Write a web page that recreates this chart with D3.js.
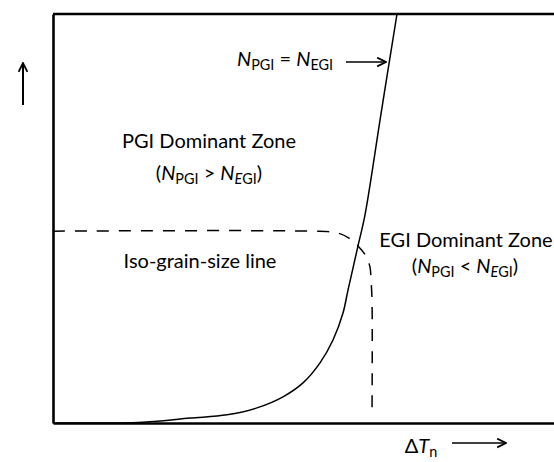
<!DOCTYPE html>
<html>
<head>
<meta charset="utf-8">
<script src="https://cdn.jsdelivr.net/npm/d3@7"></script>
<style>
  body { margin: 0; background: #fff; }
  svg { display: block; }
  text { font-family: Lato, "Open Sans", sans-serif; fill: #000; }
</style>
</head>
<body>
<svg id="chart" width="554" height="462"></svg>
<script>
// schematic data, arbitrary units 0..100 on both axes
const equalX = [0, 18, 27.4, 34.8, 40.8, 46, 50, 53.4, 56, 58, 59, 61, 62.4, 65.6, 68.8];
const equalY = [0, 0.2, 1.2, 2.0, 3.7, 6.4, 9.8, 14.7, 20.3, 26.9, 32.5, 43.3, 50.9, 75.6, 100];

const isoX = [0, 51.4, 56.8, 59.2, 61, 62.6, 63.4, 63.6, 63.8, 63.8];
const isoY = [46.9, 46.9, 46.5, 45.2, 43.3, 40.8, 38.1, 35, 30.1, 1.5];

const width = 554, height = 462;
const svg = d3.select("#chart");

const x = d3.scaleLinear().domain([0, 100]).range([53, 553]);
const y = d3.scaleLinear().domain([0, 100]).range([423, 14]);

// arrow head
svg.append("defs").append("marker")
  .attr("id", "head")
  .attr("viewBox", "0 0 10 10")
  .attr("refX", 9).attr("refY", 5)
  .attr("markerWidth", 11).attr("markerHeight", 11)
  .attr("markerUnits", "userSpaceOnUse")
  .attr("orient", "auto")
  .append("path")
  .attr("d", "M1,1 L9,5 L1,9")
  .attr("fill", "none").attr("stroke", "#000").attr("stroke-width", 1.6);

// frame: bottom + left axes with no ticks, top line
let xAxis = svg.append("g")
  .attr("transform", `translate(0,${y(0)})`)
  .call(d3.axisBottom(x.copy().range([53, 560])).ticks(0).tickSizeOuter(0));
let yAxis = svg.append("g")
  .attr("transform", `translate(${x(0)},0)`)
  .call(d3.axisLeft(y).ticks(0).tickSizeOuter(0));
svg.selectAll(".domain").attr("stroke", "#000").attr("stroke-width", 2.6);
svg.append("line")
  .attr("x1", x(0)).attr("x2", 560)
  .attr("y1", y(100)).attr("y2", y(100))
  .attr("stroke", "#000").attr("stroke-width", 2.6);

// N_PGI = N_EGI curve
let line = d3.line().x(d => x(d[0])).y(d => y(d[1])).curve(d3.curveCatmullRom);
svg.append("path")
  .attr("d", line(d3.zip(equalX, equalY)))
  .attr("fill", "none").attr("stroke", "#000").attr("stroke-width", 1.5);

// iso-grain-size line
svg.append("path")
  .attr("d", line(d3.zip(isoX, isoY)))
  .attr("fill", "none").attr("stroke", "#000").attr("stroke-width", 1.5)
  .attr("stroke-dasharray", "12,10");

// labels; sub: start subscript, keep: stay on current baseline, up: back to baseline
function label(px, py, parts, size, anchor) {
  let t = svg.append("text").attr("x", px).attr("y", py)
    .attr("font-size", size).attr("text-anchor", anchor || "middle");
  parts.forEach(p => {
    let s = t.append("tspan").text(p.t);
    if (p.i) s.attr("font-style", "italic");
    if (p.sub || p.keep) s.attr("font-size", size * 0.72);
    if (p.sub) s.attr("dy", 4);
    if (p.up) s.attr("dy", -4);
  });
  return t;
}

label(209, 148, [{t: "PGI Dominant Zone"}], 20);
label(209, 180, [{t: "("}, {t: "N", i: 1}, {t: "PGI", sub: 1}, {t: " > ", up: 1}, {t: "N", i: 1},
  {t: "E", i: 1, sub: 1}, {t: "GI", keep: 1}, {t: ")", up: 1}], 20);
label(200, 268, [{t: "Iso-grain-size line"}], 20);
label(466, 247, [{t: "EGI Dominant Zone"}], 20);
label(465, 273, [{t: "("}, {t: "N", i: 1}, {t: "PGI", sub: 1}, {t: " < ", up: 1}, {t: "N", i: 1},
  {t: "E", i: 1, sub: 1}, {t: "GI", keep: 1}, {t: ")", up: 1}], 20);
label(285, 66, [{t: "N", i: 1}, {t: "PGI", sub: 1}, {t: " = ", up: 1}, {t: "N", i: 1}, {t: "EGI", sub: 1}], 20);
label(421, 453, [{t: "\u0394"}, {t: "T", i: 1}, {t: "n", sub: 1}], 20);

// arrows
svg.append("line").attr("x1", 346).attr("y1", 62).attr("x2", 386).attr("y2", 62)
  .attr("stroke", "#000").attr("stroke-width", 1.6).attr("marker-end", "url(#head)");
svg.append("line").attr("x1", 452).attr("y1", 443).attr("x2", 506).attr("y2", 443)
  .attr("stroke", "#000").attr("stroke-width", 1.6).attr("marker-end", "url(#head)");
svg.append("line").attr("x1", 23).attr("y1", 105).attr("x2", 23).attr("y2", 63)
  .attr("stroke", "#000").attr("stroke-width", 2).attr("marker-end", "url(#head)");
</script>
</body>
</html>
